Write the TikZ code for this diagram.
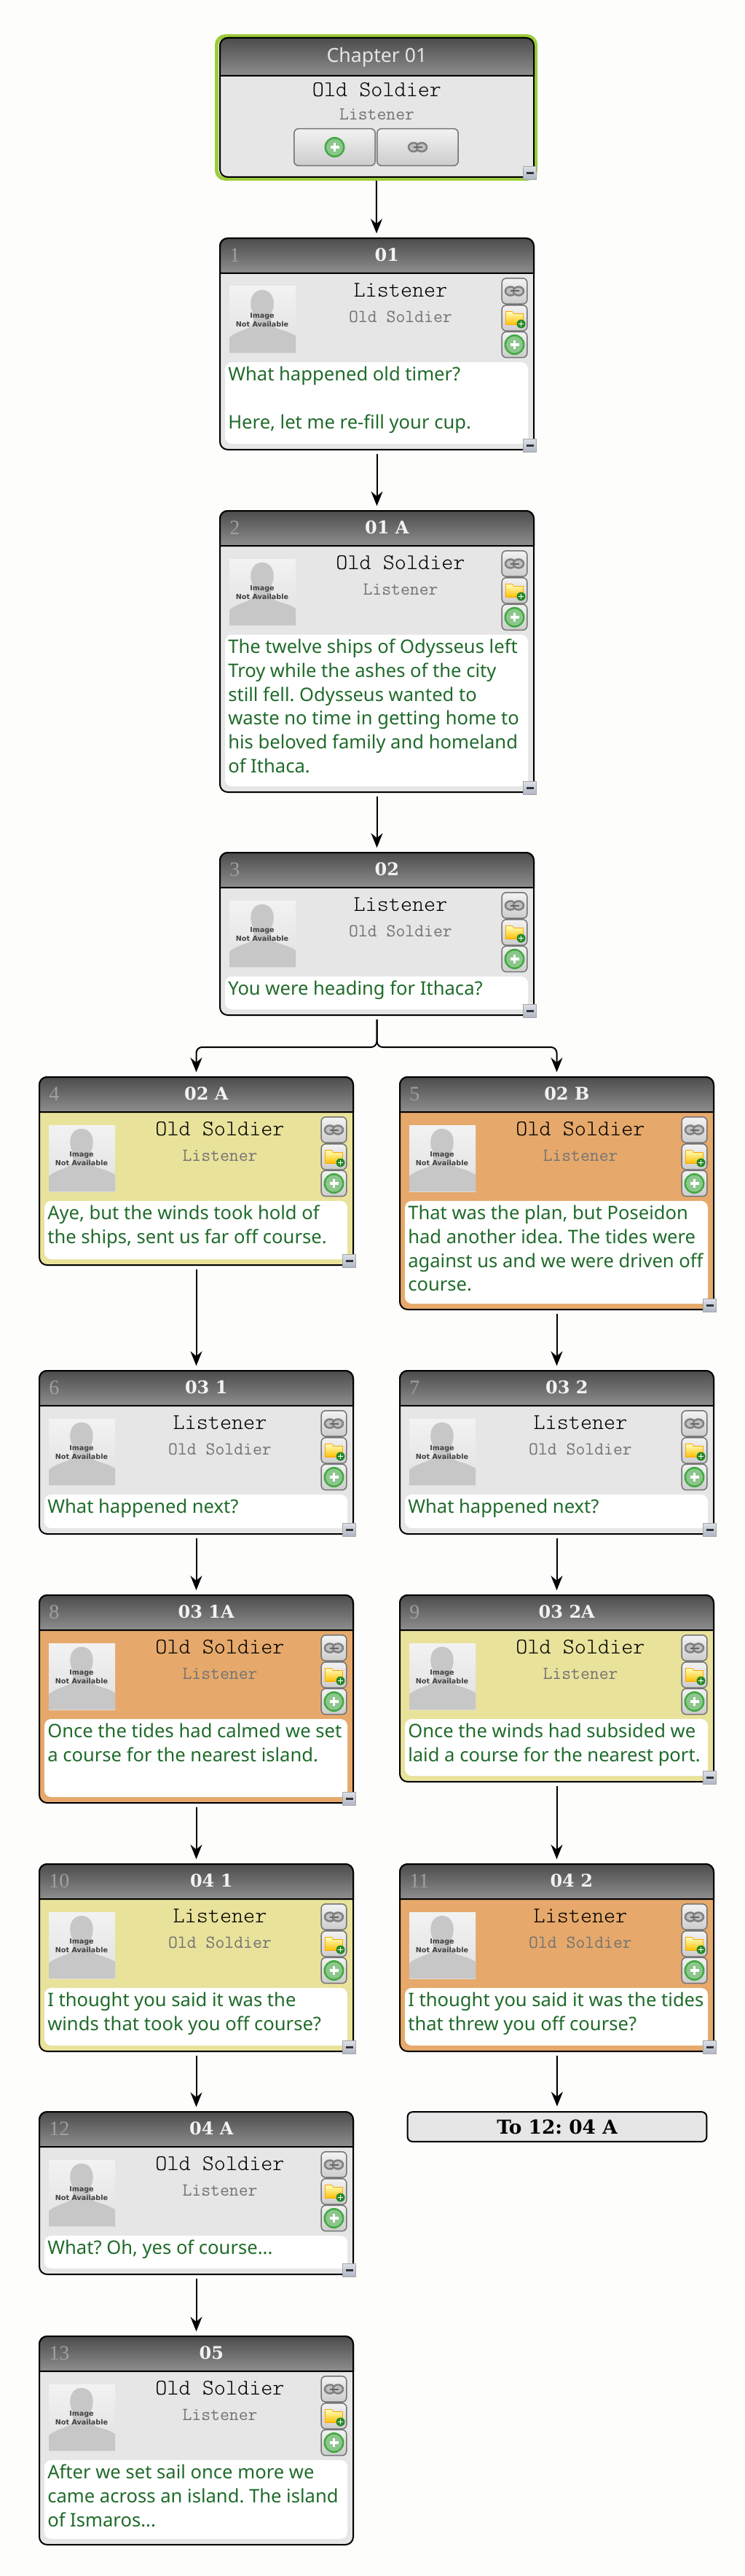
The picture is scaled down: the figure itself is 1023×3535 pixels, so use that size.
\documentclass[tikz,border=0pt]{standalone}
\usepackage{fontspec}
\setmainfont{Noto Sans}
\newfontfamily\titlefont{DejaVu Serif}
\newfontfamily\numfont{Liberation Serif}
\newfontfamily\fotofont{DejaVu Sans}
\usetikzlibrary{arrows.meta,arrows}
\usetikzlibrary{positioning,calc}
\frenchspacing

\definecolor{pagebg}{HTML}{FDFDFB}
\definecolor{cardgrey}{HTML}{E6E6E6}
\definecolor{cardyellow}{HTML}{E9E29B}
\definecolor{cardorange}{HTML}{E6A96B}
\definecolor{ringgreen}{HTML}{9CCC3C}
\definecolor{hdtop}{HTML}{4C4C4C}
\definecolor{hdbot}{HTML}{8E8E8E}
\definecolor{saygreen}{HTML}{1F6B2A}
\definecolor{minustop}{HTML}{DDE0E8}
\definecolor{minusbot}{HTML}{AEB4C4}

\tikzset{
    cardbox/.style={draw=black,line width=1.5pt,rounded corners=8pt,inner sep=0pt,outer sep=0pt,
        minimum width=323.25pt},
    headbox/.style={draw=black,line width=1.5pt,top color=hdtop,bottom color=hdbot},
    ringbox/.style={draw=ringgreen,line width=3.75pt,rounded corners=9pt,inner sep=0pt,outer sep=1.9pt,
        minimum width=328.5pt,minimum height=147pt},
    numtext/.style={font=\numfont\fontsize{21}{21}\selectfont,text=gray!75,inner sep=0pt},
    titletext/.style={font=\titlefont\bfseries\fontsize{18}{18}\selectfont,text=white!90!gray,inner sep=0pt},
    whotext/.style={font=\ttfamily\fontseries{l}\fontsize{23}{23}\selectfont,text=black,inner sep=0pt},
    othertext/.style={font=\ttfamily\fontsize{18.75}{18.75}\selectfont,text=black!55,inner sep=0pt},
    saytext/.style={font=\fontsize{19.2}{24.5}\selectfont,text=saygreen,align=left,anchor=north west,inner sep=0pt},
    sidebtn/.style={draw=black!55,line width=1.1pt,rounded corners=4.5pt,minimum width=26pt,minimum height=26.5pt,
        inner sep=0pt,top color=black!5,bottom color=black!20},
    widebtn/.style={draw=black!55,line width=1.1pt,rounded corners=4.5pt,minimum width=83.5pt,minimum height=38pt,
        inner sep=0pt,top color=black!5,middle color=black!12,bottom color=black!20},
    minusbtn/.style={draw=black!35,line width=.8pt,minimum width=14pt,minimum height=14pt,inner sep=0pt,
        top color=minustop,bottom color=minusbot},
    stubbox/.style={draw=black,line width=1.5pt,fill=cardgrey,rounded corners=5pt,inner sep=0pt,
        minimum width=308pt,minimum height=30.5pt,
        font=\titlefont\bfseries\fontsize{19.8}{20}\selectfont},
    conn/.style={->,>={Stealth[black,length=15pt,width=12pt,inset=5pt]},line width=1.5pt,
        shorten >=5pt,shorten <=4.5pt},
    linkpic/.pic={
        \draw[black!50,line width=1.9pt,fill=black!25] (-5.5,0) ellipse (7 and 6);
        \draw[black!50,line width=1.9pt,fill=black!25] (5.5,0) ellipse (7 and 6);
        \draw[black!60,line width=1.5pt] (-6,0) -- (6,0);
    },
    folderpic/.pic={
        \draw[orange!70!yellow,line width=.6pt,top color=yellow!25,bottom color=orange!50!yellow]
            (-12,-9) -- (-3,-9) -- (-1,-6) -- (12,-6) -- (12,9) -- (-12,9) -- cycle;
        \fill[green!45!black!85] (9,8) circle (6);
        \draw[white,line width=1.3pt] (5.8,8) -- (12.2,8) (9,4.8) -- (9,11.2);
    },
    pluspic/.pic={
        \fill[green!55!black!75] (0,0) circle (14);
        \fill[green!50!black!45!white] (0,0) circle (11.5);
        \draw[white,line width=2.6pt] (-6,0) -- (6,0) (0,-6) -- (0,6);
    },
    nofoto/.pic={
        \fill[top color=black!5,bottom color=black!12] (0,0) rectangle (91,91);
        \fill[black!22] (91,68) .. controls (75,58) and (60,60) .. (57,50) -- (57,38)
            .. controls (64,26) and (62,5) .. (45,5) .. controls (28,5) and (26,26) .. (33,38) -- (33,50)
            .. controls (30,60) and (15,58) .. (0,70) -- (0,91) -- (91,91) -- cycle;
        \node[font=\fotofont\bfseries\fontsize{7.2}{8.4}\selectfont,text=black!75,align=center,inner sep=0pt] at (45,46)
            {Image\\Not Available};
    }
}

% the dark bar on top of a card: name, height
\newcommand{\cardhead}[2]{
    \path[headbox,rounded corners=8pt] ($(#1.north west)+(0,#2)$) -- (#1.north west) -- (#1.north east)
        [sharp corners] -- ($(#1.north east)+(0,#2)$) -- cycle;
}
% one card: name, left, top, bottom, colour, number, title, who, other
\newcommand{\card}[9]{
    \node[cardbox,fill=#5,minimum height={(#4-#3)*0.75pt}] (#1) at ({#2+215.5},{(#3+#4)/2}) {};
    \cardhead{#1}{48}
    \node[numtext,anchor=west] (#1n) at ($(#1.north west)+(13,23)$) {#6};
    \node[titletext] (#1t) at ($(#1n.east)!0.5!(#1n.east -| #1.east)$) {#7};
    \pic at ($(#1.north west)+(13,66)$) {nofoto};
    \node[whotext] (#1w) at ($(#1.north west)+(248,71)$) {#8};
    \node[othertext] (#1o) at ($(#1.north west)+(248,108)$) {#9};
    \node[sidebtn] (#1a) at ($(#1.north west)+(404.5,72.5)$) {};
    \node[sidebtn] (#1b) at ($(#1.north west)+(404.5,109.5)$) {};
    \node[sidebtn] (#1c) at ($(#1.north west)+(404.5,146)$) {};
    \pic at (#1a) {linkpic};
    \pic at (#1b) {folderpic};
    \pic at (#1c) {pluspic};
}
% the text of a card
\newcommand{\says}[2]{
    \fill[white,rounded corners=7pt] ($(#1.north west)+(7,170)$) rectangle ($(#1.south east)+(-8,-8)$);
    \node[saytext] (#1s) at ($(#1.north west)+(11,176)$) {#2};
}
\newcommand{\minus}[1]{
    \node[minusbtn] (#1m) at ($(#1.south east)+(-5.5,-5.5)$) {};
    \draw[black!80,line width=1.9pt] ($(#1m)+(-5,0)$) -- ($(#1m)+(5,0)$);
}

\begin{document}
\begin{tikzpicture}[x=0.75pt,y=-0.75pt]
        \fill[pagebg] (0,0) rectangle (1023,3535);

        % chapter
        \node[ringbox] (c0r) at (516.5,147.5) {};
        \node[cardbox,fill=cardgrey,minimum height=143.25pt] (c0) at (517.5,147.5) {};
        \cardhead{c0}{52}
        \node[font=\fontsize{20}{20}\selectfont,text=black!10,inner sep=0pt] (c0t) at (517.5,79) {Chapter 01};
        \node[whotext] (c0w) at (517.5,123) {Old Soldier};
        \node[othertext] (c0o) at (517.5,157) {Listener};
        \node[widebtn] (c0a) at (459.5,202) {};
        \node[widebtn] (c0b) at (573.5,202) {};
        \pic at (c0a) {pluspic};
        \pic at (c0b) {linkpic};
        \minus{c0}

        % the cards
        \card{c1}{302}{327}{617}{cardgrey}{1}{01}{Listener}{Old Soldier}
        \says{c1}{What happened old timer?\\[24.5pt]Here, let me re-fill your cup.}
        \minus{c1}
        \card{c2}{302}{701}{1087}{cardgrey}{2}{01 A}{Old Soldier}{Listener}
        \says{c2}{The twelve ships of Odysseus left\\Troy while the ashes of the city\\still fell. Odysseus wanted to\\waste no time in getting home to\\his beloved family and homeland\\of Ithaca.}
        \minus{c2}
        \card{c3}{302}{1170}{1393}{cardgrey}{3}{02}{Listener}{Old Soldier}
        \says{c3}{You were heading for Ithaca?}
        \minus{c3}
        \card{c4}{54}{1478}{1736}{cardyellow}{4}{02 A}{Old Soldier}{Listener}
        \says{c4}{Aye, but the winds took hold of\\the ships, sent us far off course.}
        \minus{c4}
        \card{c5}{549}{1478}{1797}{cardorange}{5}{02 B}{Old Soldier}{Listener}
        \says{c5}{That was the plan, but Poseidon\\had another idea. The tides were\\against us and we were driven off\\course.}
        \minus{c5}
        \card{c6}{54}{1881}{2105}{cardgrey}{6}{03 1}{Listener}{Old Soldier}
        \says{c6}{What happened next?}
        \minus{c6}
        \card{c7}{549}{1881}{2105}{cardgrey}{7}{03 2}{Listener}{Old Soldier}
        \says{c7}{What happened next?}
        \minus{c7}
        \card{c8}{54}{2189}{2474}{cardorange}{8}{03 1A}{Old Soldier}{Listener}
        \says{c8}{Once the tides had calmed we set\\a course for the nearest island.}
        \minus{c8}
        \card{c9}{549}{2189}{2445}{cardyellow}{9}{03 2A}{Old Soldier}{Listener}
        \says{c9}{Once the winds had subsided we\\laid a course for the nearest port.}
        \minus{c9}
        \card{c10}{54}{2558}{2815}{cardyellow}{10}{04 1}{Listener}{Old Soldier}
        \says{c10}{I thought you said it was the\\winds that took you off course?}
        \minus{c10}
        \card{c11}{549}{2558}{2815}{cardorange}{11}{04 2}{Listener}{Old Soldier}
        \says{c11}{I thought you said it was the tides\\that threw you off course?}
        \minus{c11}
        \card{c12}{54}{2898}{3121}{cardgrey}{12}{04 A}{Old Soldier}{Listener}
        \says{c12}{What? Oh, yes of course...}
        \minus{c12}
        \card{c13}{54}{3206}{3492}{cardgrey}{13}{05}{Old Soldier}{Listener}
        \says{c13}{After we set sail once more we\\came across an island. The island\\of Ismaros...}

        \node[stubbox] (stub) at (765,2918.5) {To 12: 04 A};

        % connectors
        \coordinate (fork) at (517.5,1437);
        \path [conn,shorten <=0pt] (c0r) edge (c1);
        \path [conn] (c1) edge (c2);
        \path [conn] (c2) edge (c3);
        \draw [conn,rounded corners=6pt] (c3.south) -- (fork) -| (c4.north);
        \draw [conn,rounded corners=6pt] (c3.south) -- (fork) -| (c5.north);
        \path [conn] (c4) edge (c6);
        \path [conn] (c5) edge (c7);
        \path [conn] (c6) edge (c8);
        \path [conn] (c7) edge (c9);
        \path [conn] (c8) edge (c10);
        \path [conn] (c9) edge (c11);
        \path [conn] (c10) edge (c12);
        \path [conn] (c11) edge (stub);
        \path [conn] (c12) edge (c13);
    \end{tikzpicture}
\end{document}
